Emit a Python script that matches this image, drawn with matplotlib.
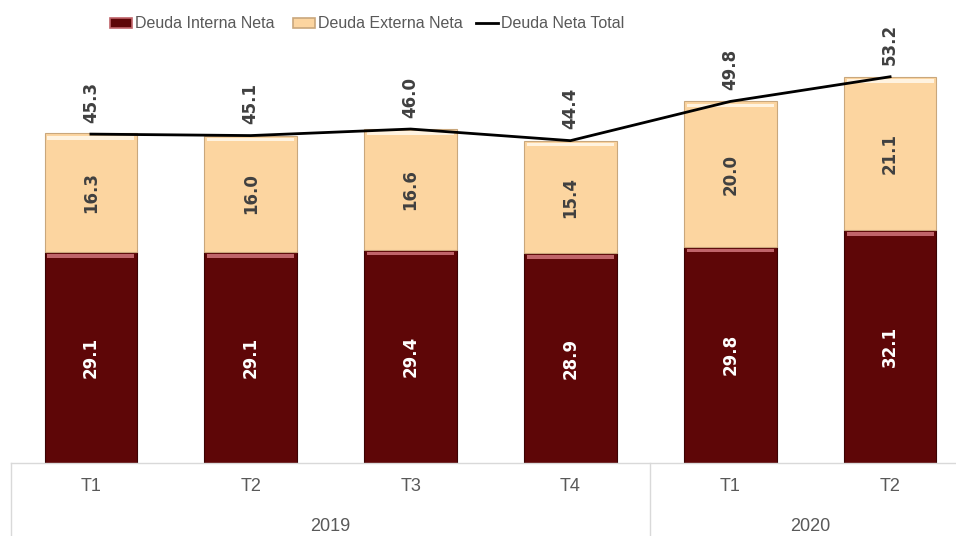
import numpy as np
import matplotlib.pyplot as plt
from matplotlib.patches import Patch
from matplotlib.lines import Line2D

quarters = ["T1", "T2", "T3", "T4", "T1", "T2"]
years = ["2019", "2020"]
year_span = [4, 2]
interna = [29.1, 29.1, 29.4, 28.9, 29.8, 32.1]
externa = [16.3, 16.0, 16.6, 15.4, 20.0, 21.1]
total = [45.3, 45.1, 46.0, 44.4, 49.8, 53.2]

plt.rcParams['font.family'] = ['Liberation Sans', 'DejaVu Sans']

c_int = "#5e0607"
c_ext = "#fcd5a0"
grid_c = "#d9d9d9"
txt_c = "#595959"

fig = plt.figure(figsize=(9.56, 5.36), dpi=100)
ax = fig.add_axes([11/956, 73/536, 959/956, 435.6/536])
x = np.arange(len(quarters))
w = 0.58

ax.bar(x, interna, w, color=c_int, edgecolor="#3a0203", linewidth=0.8, zorder=2)
ax.bar(x, externa, w, bottom=interna, color=c_ext, edgecolor="#c9a77c", linewidth=0.8, zorder=2)
# bevel highlights at top of each segment
ax.bar(x, [0.5]*len(x), w*0.94, bottom=np.array(interna)-0.8, color="#c0646a", linewidth=0, zorder=3)
ax.bar(x, [0.5]*len(x), w*0.94, bottom=np.array(total)-0.8, color="#fff3e0", linewidth=0, zorder=3)

ax.plot(x, total, color="black", linewidth=2, zorder=4)

for i in range(len(x)):
    ax.text(x[i], interna[i]/2, f"{interna[i]:.1f}", rotation=90, ha="center", va="center",
            color="white", fontsize=12, fontweight="bold", family="DejaVu Sans", zorder=5)
    ax.text(x[i], interna[i] + externa[i]/2, f"{externa[i]:.1f}", rotation=90, ha="center",
            va="center", color="#404040", fontsize=12, fontweight="bold", family="DejaVu Sans", zorder=5)
    ax.annotate(f"{total[i]:.1f}", (x[i], total[i]), xytext=(0, 23), textcoords="offset points",
                rotation=90, ha="center", va="center", color="#404040", fontsize=12,
                fontweight="bold", family="DejaVu Sans", zorder=5)

ax.set_xlim(-0.5, 5.5)
ax.set_ylim(0, 60)
ax.set_xticks([])
ax.set_yticks([])
for s in ["top", "right", "left"]:
    ax.spines[s].set_visible(False)
ax.spines["bottom"].set_color(grid_c)
ax.spines["bottom"].set_linewidth(1)

# category labels and group separators
for i, q in enumerate(quarters):
    ax.text(x[i], -3.3, q, ha="center", va="center", fontsize=13, color=txt_c, clip_on=False)
start = 0
for yr, n in zip(years, year_span):
    ax.plot([start - 0.5, start - 0.5], [0, -12], color=grid_c, linewidth=1, clip_on=False)
    ax.text(start + (n - 1)/2, -8.8, yr, ha="center", va="center", fontsize=13, color=txt_c,
            clip_on=False)
    start += n

handles = [Patch(facecolor=c_int, edgecolor="#c0646a", linewidth=1.2),
           Patch(facecolor=c_ext, edgecolor="#c9a77c", linewidth=1.2),
           Line2D([0], [0], color="black", linewidth=2)]
labels = ["Deuda Interna Neta", "Deuda Externa Neta", "Deuda Neta Total"]
lx = [102, 285, 468]
for h, lab, px in zip(handles, labels, lx):
    fig.legend([h], [lab], loc="center left", bbox_to_anchor=(px/956, 1 - 24/536),
               frameon=False, fontsize=11.5, handlelength=1.4, handleheight=0.6,
               handletextpad=0.15, borderpad=0, labelcolor=txt_c)

fig.savefig("out.png", dpi=100)
